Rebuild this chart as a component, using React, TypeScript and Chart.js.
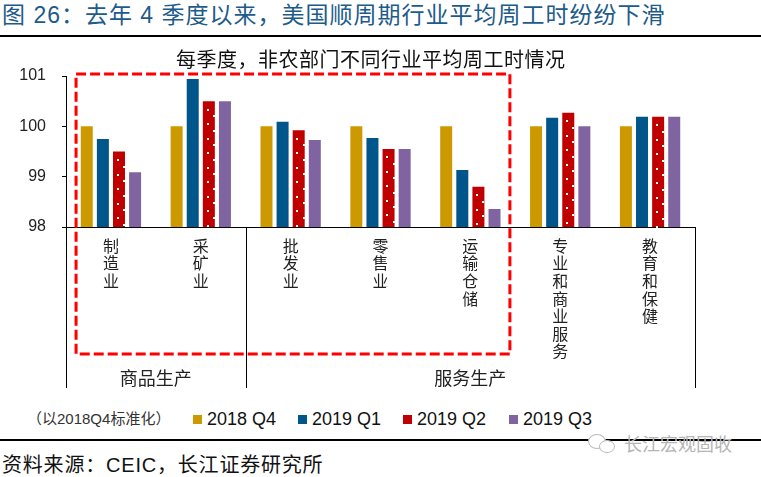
import React, { useEffect, useRef } from 'react';
import { Chart, registerables } from 'chart.js';

Chart.register(...registerables);

// ---------- data ----------
const categories = ['制造业', '采矿业', '批发业', '零售业', '运输仓储', '专业和商业服务', '教育和保健'];
const groupLabels = ['商品生产', '服务生产'];
const groupSpans = [2, 5];
const seriesLabels = ['2018 Q4', '2019 Q1', '2019 Q2', '2019 Q3'];
const q4_2018 = [100, 100, 100, 100, 100, 100, 100];
const q1_2019 = [99.75, 100.94, 100.09, 99.77, 99.13, 100.17, 100.19];
const q2_2019 = [99.5, 100.5, 99.92, 99.55, 98.8, 100.27, 100.19];
const q3_2019 = [99.09, 100.5, 99.73, 99.55, 98.36, 100.0, 100.19];
const yMin = 98;
const yMax = 101;
const yStep = 1;

const titleText = '图 26：去年 4 季度以来，美国顺周期行业平均周工时纷纷下滑';
const subTitleText = '每季度，非农部门不同行业平均周工时情况';
const noteText = '（以2018Q4标准化）';
const sourceText = '资料来源：CEIC，长江证券研究所';
const watermarkText = '长江宏观固收';

// ---------- styles ----------
const seriesColors = ['#cc9a00', '#00558a', '#c00000', '#8064a2'];
const CJK = '"Noto Sans CJK SC", sans-serif';
const MIXED = '"Liberation Sans", "Noto Sans CJK SC", sans-serif';

const decorPlugin = {
  id: 'decor',
  afterDatasetsDraw(chart: any) {
    const ctx = chart.ctx;
    const meta = chart.getDatasetMeta(2);
    ctx.save();
    ctx.fillStyle = '#ffffff';
    meta.data.forEach((el: any) => {
      const w = el.width;
      const left = el.x - w / 2;
      const top = Math.min(el.y, el.base);
      const base = Math.max(el.y, el.base);
      for (let yy = top + 8.5; yy < base - 2; yy += 14.5) {
        ctx.fillRect(Math.round(left + w * 0.4) - 1, Math.round(yy) - 1, 2, 2);
      }
      for (let yy = top + 15; yy < base - 2; yy += 14.5) {
        ctx.fillRect(Math.round(left + w) - 2, Math.round(yy) - 1, 2, 2);
      }
    });
    ctx.restore();
  },
  afterDraw(chart: any) {
    const ctx = chart.ctx;
    const xs = chart.scales.x;
    const ys = chart.scales.y;
    const cw = (xs.right - xs.left) / categories.length;
    const axisY = ys.getPixelForValue(yMin);
    const sepBottom = 388;
    ctx.save();
    // group separators
    ctx.strokeStyle = '#000';
    ctx.lineWidth = 1;
    const bounds = [0];
    let acc = 0;
    groupSpans.forEach((s) => {
      acc += s;
      bounds.push(acc);
    });
    bounds.forEach((b) => {
      const px = Math.round(xs.left + b * cw) + 0.5;
      ctx.beginPath();
      ctx.moveTo(px, axisY);
      ctx.lineTo(px, sepBottom);
      ctx.stroke();
    });
    // group labels
    ctx.fillStyle = '#222';
    ctx.font = '18px ' + CJK;
    ctx.textAlign = 'center';
    ctx.textBaseline = 'middle';
    groupLabels.forEach((g, i) => {
      const cx = xs.left + ((bounds[i] + bounds[i + 1]) / 2) * cw;
      ctx.fillText(g, cx, 378);
    });
    // red dashed highlight box
    const left = xs.getPixelForValue(0) - 0.388 * cw;
    const right = xs.getPixelForValue(4) + 0.44 * cw;
    const top = ys.getPixelForValue(yMax) - 2;
    const bottom = 354;
    ctx.strokeStyle = '#ff0000';
    ctx.lineWidth = 3;
    ctx.setLineDash([10, 4]);
    ctx.strokeRect(left, top, right - left, bottom - top);
    ctx.restore();
  },
};

function BarChart() {
  const ref = useRef<HTMLCanvasElement | null>(null);
  useEffect(() => {
    if (!ref.current) return;
    const series = [q4_2018, q1_2019, q2_2019, q3_2019];
    const chart = new Chart(ref.current, {
      type: 'bar',
      data: {
        labels: categories.map((c) => c.split('')),
        datasets: series.map((d, i) => ({
          label: seriesLabels[i],
          data: d,
          backgroundColor: seriesColors[i],
          borderWidth: 0,
          categoryPercentage: 0.717,
          barPercentage: 0.745,
        })),
      },
      options: {
        animation: false,
        responsive: false,
        maintainAspectRatio: false,
        layout: { padding: { left: 0, top: 76, right: 66, bottom: 0 } },
        plugins: {
          legend: { display: false },
          tooltip: { enabled: false },
          title: { display: false },
        },
        scales: {
          x: {
            grid: { display: false, drawOnChartArea: false, drawTicks: false },
            border: { display: true, color: '#000', width: 1 },
            ticks: {
              autoSkip: false,
              maxRotation: 0,
              minRotation: 0,
              padding: 10,
              color: '#222',
              font: { family: CJK, size: 16, lineHeight: 1.1 },
            },
            afterFit: (s: any) => {
              s.height = 173;
            },
          },
          y: {
            min: yMin,
            max: yMax,
            ticks: {
              stepSize: yStep,
              padding: 16,
              color: '#222',
              font: { family: '"Liberation Sans", sans-serif', size: 16 },
            },
            grid: { drawOnChartArea: false, drawTicks: true, tickLength: 4, color: '#000' },
            border: { display: true, color: '#000', width: 1 },
            afterFit: (s: any) => {
              s.width = 66;
            },
          },
        },
      } as any,
      plugins: [decorPlugin],
    });
    return () => chart.destroy();
  }, []);
  return (
    <canvas
      ref={ref}
      width={761}
      height={400}
      style={{ position: 'absolute', left: 0, top: 0, width: 761, height: 400 }}
    />
  );
}

const abs = (o: any) => ({ position: 'absolute' as const, whiteSpace: 'nowrap' as const, margin: 0, ...o });

export default function App() {
  const legendX = [193, 298, 403, 509];
  return (
    <div
      style={{
        position: 'fixed',
        left: 0,
        top: 0,
        width: 761,
        height: 477,
        background: '#fff',
        overflow: 'hidden',
      }}
    >
      <div style={abs({ left: 2, top: 0, fontSize: 23, lineHeight: '30px', color: '#1d5b8a', fontFamily: MIXED, letterSpacing: 1 })}>
        {titleText}
      </div>
      <div style={abs({ left: 0, top: 35, width: 761, height: 2, background: '#000' })} />
      <BarChart />
      <div style={abs({ left: 176, top: 45, fontSize: 20, lineHeight: '28px', color: '#111', fontFamily: CJK, letterSpacing: 0.5 })}>
        {subTitleText}
      </div>
      <div style={abs({ left: 27, top: 409, fontSize: 15, lineHeight: '20px', color: '#333', fontFamily: MIXED })}>
        {noteText}
      </div>
      {seriesLabels.map((s, i) => (
        <React.Fragment key={s}>
          <div style={abs({ left: legendX[i], top: 415, width: 9, height: 9, background: seriesColors[i] })} />
          <div
            style={abs({
              left: legendX[i] + 14,
              top: 407,
              fontSize: 18,
              lineHeight: '24px',
              color: '#111',
              fontFamily: '"Liberation Sans", sans-serif',
            })}
          >
            {s}
          </div>
        </React.Fragment>
      ))}
      <div style={abs({ left: 0, top: 439, width: 761, height: 2, background: '#000' })} />
      <div style={abs({ left: 588, top: 434, width: 16, height: 13, borderRadius: '50%', border: '1.5px solid #bbb', background: '#fff' })} />
      <div style={abs({ left: 599, top: 440, width: 14, height: 11, borderRadius: '50%', border: '1.5px solid #bbb', background: '#fff' })} />
      <div style={abs({ left: 624, top: 429, fontSize: 18, lineHeight: '28px', color: '#b5b5b5', fontFamily: CJK })}>
        {watermarkText}
      </div>
      <div style={abs({ left: 2, top: 451, fontSize: 20, lineHeight: '28px', color: '#111', fontFamily: MIXED, letterSpacing: 0.8 })}>
        {sourceText}
      </div>
    </div>
  );
}
